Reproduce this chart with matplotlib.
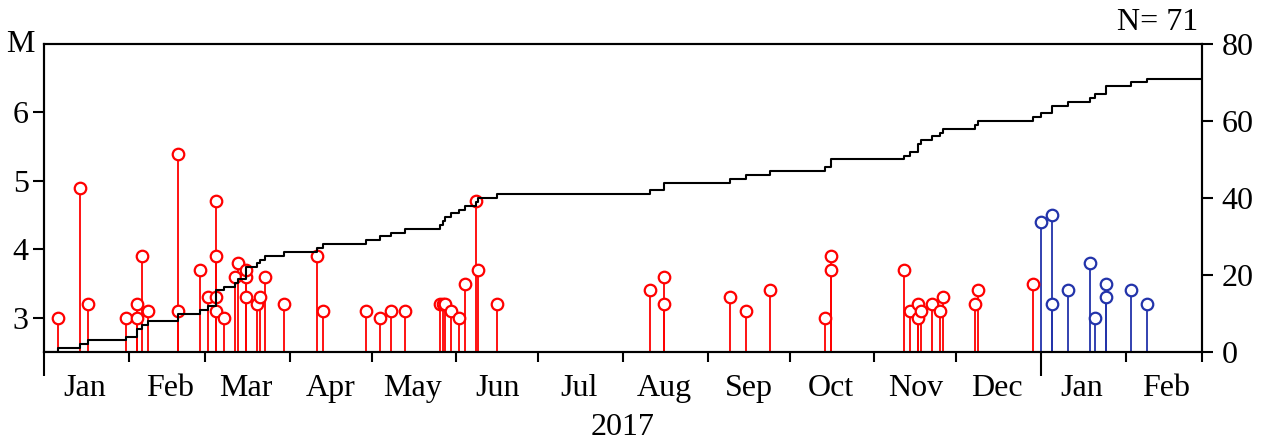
import matplotlib
matplotlib.use('Agg')
import matplotlib.pyplot as plt
import numpy as np
import pandas as pd

plt.rcParams['font.family'] = ['Liberation Serif', 'DejaVu Serif']
plt.rcParams['font.size'] = 23

# events of 2017 (red) and 2018 (blue): date, magnitude
dates_2017 = ['2017-01-06', '2017-01-14', '2017-01-17', '2017-01-31', '2017-02-04', '2017-02-04',
              '2017-02-06', '2017-02-08', '2017-02-19', '2017-02-19', '2017-02-27', '2017-03-02',
              '2017-03-05', '2017-03-05', '2017-03-05', '2017-03-05', '2017-03-08', '2017-03-12',
              '2017-03-13', '2017-03-16', '2017-03-16', '2017-03-16', '2017-03-20', '2017-03-21',
              '2017-03-23', '2017-03-30', '2017-04-11', '2017-04-13', '2017-04-29', '2017-05-04',
              '2017-05-08', '2017-05-13', '2017-05-26', '2017-05-27', '2017-05-28', '2017-05-30',
              '2017-06-02', '2017-06-04', '2017-06-08', '2017-06-09', '2017-06-16', '2017-08-11',
              '2017-08-16', '2017-08-16', '2017-09-09', '2017-09-15', '2017-09-24', '2017-10-14',
              '2017-10-16', '2017-10-16', '2017-11-12', '2017-11-14', '2017-11-17', '2017-11-17',
              '2017-11-18', '2017-11-22', '2017-11-25', '2017-11-26', '2017-12-08', '2017-12-09',
              '2017-12-29']
mags_2017 = [3.0, 4.9, 3.2, 3.0, 3.2, 3.0,
             3.9, 3.1, 5.4, 3.1, 3.7, 3.3,
             4.7, 3.9, 3.3, 3.1, 3.0, 3.6,
             3.8, 3.6, 3.7, 3.3, 3.2, 3.3,
             3.6, 3.2, 3.9, 3.1, 3.1, 3.0,
             3.1, 3.1, 3.2, 3.2, 3.2, 3.1,
             3.0, 3.5, 4.7, 3.7, 3.2, 3.4,
             3.6, 3.2, 3.3, 3.1, 3.4, 3.0,
             3.7, 3.9, 3.7, 3.1, 3.2, 3.0,
             3.1, 3.2, 3.1, 3.3, 3.2, 3.4,
             3.5]
dates_2018 = ['2018-01-01', '2018-01-05', '2018-01-05', '2018-01-11', '2018-01-19',
              '2018-01-21', '2018-01-25', '2018-01-25', '2018-02-03', '2018-02-09']
mags_2018 = [4.4, 4.5, 3.2, 3.4, 3.8, 3.0, 3.3, 3.5, 3.4, 3.2]

month_labels = ['Jan', 'Feb', 'Mar', 'Apr', 'May', 'Jun', 'Jul', 'Aug', 'Sep', 'Oct', 'Nov', 'Dec', 'Jan', 'Feb']
m_ticks = [3, 4, 5, 6]
n_ticks = [0, 20, 40, 60, 80]

d17 = pd.to_datetime(dates_2017)
d18 = pd.to_datetime(dates_2018)
start = pd.Timestamp('2017-01-01')
end = pd.Timestamp('2018-03-01')

fig = plt.figure(figsize=(12.63, 4.48), dpi=100)
ax = fig.add_axes([44 / 1263, 96 / 448, 1158 / 1263, 308 / 448])
ax.set_xlim(start, end)
ax.set_ylim(2.5, 7)

# stems + circles
ax.vlines(d17, 2.5, mags_2017, color='red', lw=1.3, zorder=2)
ax.plot(d17, mags_2017, 'o', ms=8.3, mfc='white', mec='red', mew=1.6, ls='none', zorder=3)
ax.vlines(d18, 2.5, mags_2018, color='#2233aa', lw=1.3, zorder=2)
ax.plot(d18, mags_2018, 'o', ms=8.3, mfc='white', mec='#2233aa', mew=1.6, ls='none', zorder=3)

# cumulative count on right axis
all_dates = np.sort(np.concatenate([d17.values, d18.values]))
counts = np.arange(1, len(all_dates) + 1)
ax2 = ax.twinx()
ax2.set_ylim(0, 80)
ax2.step(np.concatenate([[np.datetime64(start)], all_dates, [np.datetime64(end)]]),
         np.concatenate([[0], counts, [counts[-1]]]), where='post', color='black', lw=1.5)

# x axis: month boundaries as ticks, labels mid-month
month_starts = pd.date_range(start, end, freq='MS')
mid_months = month_starts[:-1] + pd.Timedelta(days=15)
ax.set_xticks(month_starts)
ax.set_xticklabels([])
ax.set_xticks(mid_months, minor=True)
ax.set_xticklabels(month_labels, minor=True)
ax.tick_params(axis='x', which='major', direction='out', length=7, width=1.5)
ax.tick_params(axis='x', which='minor', length=0, pad=16)
for tk, d in zip(ax.xaxis.get_major_ticks(), month_starts):
    if d.month == 1:
        tk.tick1line.set_markersize(17)

ax.set_yticks(m_ticks)
ax.tick_params(axis='y', direction='out', length=8, width=1.5, pad=3)
ax2.set_yticks(n_ticks)
ax2.tick_params(axis='y', direction='out', length=8, width=1.5, pad=6)

for a in (ax, ax2):
    for s in a.spines.values():
        s.set_linewidth(1.5)

fig.text(20 / 1263, 1 - 45 / 448, 'M', ha='center', va='center')
fig.text(1198 / 1263, 1 - 22 / 448, 'N= 71', ha='right', va='center')
fig.text(623 / 1263, 1 - 427 / 448, '2017', ha='center', va='center')

fig.savefig('out.png', dpi=100)
